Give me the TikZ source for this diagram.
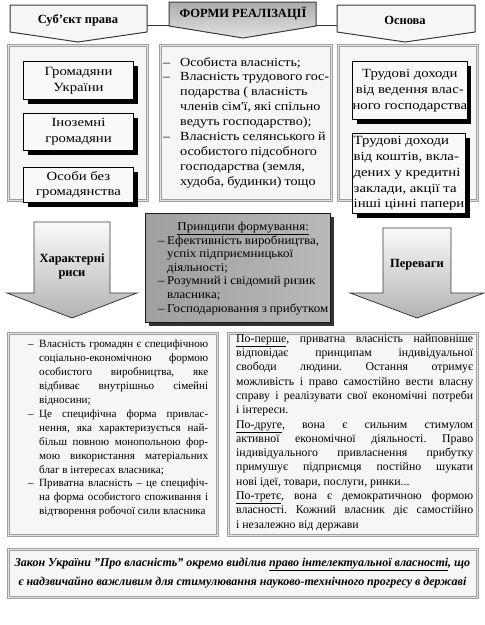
\documentclass[tikz,border=0pt]{standalone}
\usepackage{fontspec}
\setmainfont{Liberation Serif}
\newfontfamily\wideser{Liberation Serif}[FakeStretch=1.18]
\newfontfamily\midser{Liberation Serif}[FakeStretch=1.08]
\newfontfamily\censer{Liberation Serif}[FakeStretch=1.14]
\usetikzlibrary{shadows}
\newcommand\JL[1]{\hbox to\hsize{#1}}
\newcommand\LL[1]{\hbox to\hsize{#1\hfil}}
\newcommand\CL[1]{\hbox to\hsize{\hfil#1\hfil}}
\newcommand\DS[1]{\hbox to#1{–\hfil}}
\newcommand\TB[2]{\vbox{\hsize=#1\relax #2}}
\newcommand\jfont[2]{\fontsize{#1}{#2}\selectfont\frenchspacing\spaceskip=.25em plus 1em minus .06em\relax}
\begin{document}
\begin{tikzpicture}[x=1pt,y=-1pt,
  frame/.style={draw=gray!75, line width=0.7pt, double=gray!22, double distance=1.6pt, fill=gray!7, inner sep=0pt, anchor=north west},
  ibox/.style={draw=black, line width=1pt, fill=gray!5, inner sep=0pt, anchor=north west, align=center, font=\wideser\fontsize{12.5}{15.7}\selectfont, drop shadow={shadow xshift=4pt, shadow yshift=-4pt, fill=black, opacity=1}},
  ttl/.style={draw=gray!45!black, line width=1pt},
  ttext/.style={font=\bfseries\fontsize{12.5}{14}\selectfont, inner sep=0pt},
  darrow/.style={draw=gray!45!black, line width=0.8pt, top color=gray!4, bottom color=gray!60},
  conn/.style={draw=black!80, line width=0.8pt},
  body/.style={inner sep=0pt, anchor=north west}
]
\useasboundingbox (0,0) rectangle (485,625);

% title shapes
\path[ttl, fill=gray!7] (10,5) -- (147,5) -- (147,32) -- (78,42) -- (10,32) -- cycle;
\path[ttl, top color=gray!65, bottom color=gray!22] (169,2) -- (316,2) -- (316,26) -- (243,38) -- (169,26) -- cycle;
\path[ttl, fill=gray!7] (337,5) -- (475,5) -- (475,32) -- (405,42) -- (337,32) -- cycle;
\coordinate (sR) at (147,25);
\coordinate (cL) at (169,25);
\coordinate (cR) at (316,25);
\coordinate (oL) at (337,25);
\draw[conn] (sR) -- (cL);
\draw[conn] (cR) -- (oL);
\node[ttext] (tS) at (78,20) {Суб’єкт права};
\node[ttext] (tF) at (243,14) {ФОРМИ РЕАЛІЗАЦІЇ};
\node[ttext] (tO) at (405,20) {Основа};

% top frames
\node[frame, minimum width=139pt, minimum height=155pt] (fL) at (8,45) {};
\node[frame, minimum width=171pt, minimum height=155pt] (fC) at (160,45) {};
\node[frame, minimum width=139pt, minimum height=155pt] (fR) at (338,45) {};

\node[ibox, minimum width=110pt, minimum height=38pt] (g1) at (23,61) {Громадяни\\України};
\node[ibox, minimum width=110pt, minimum height=37pt] (g2) at (23,113) {Іноземні\\громадяни};
\node[ibox, minimum width=110pt, minimum height=35pt] (g3) at (23,167) {Особи без\\громадянства};

\node[ibox, minimum width=113pt, minimum height=58pt] (r1) at (352,61) {Трудові доходи\\від ведення влас-\\ного господарства};
\node[ibox, minimum width=113pt, minimum height=80pt, align=left] (r2) at (352,133) {Трудові доходи\\від коштів, вкла-\\дених у кредитні\\заклади, акції та\\інші цінні папери};

\node[body, font=\censer\jfont{12.4}{14.9}] (fCt) at (163,57) {\TB{166pt}{%
\LL{\DS{17pt}Особиста власність;}
\LL{\DS{17pt}Власність трудового гос-}
\LL{\kern17pt подарства ( власність}
\LL{\kern17pt членів сім'ї, які спільно}
\LL{\kern17pt ведуть господарство);}
\LL{\DS{17pt}Власність селянського й}
\LL{\kern17pt особистого підсобного}
\LL{\kern17pt господарства (земля,}
\LL{\kern17pt худоба, будинки) тощо}}%
};

% middle row
\path[darrow] (34,222) -- (110,222) -- (110,293) -- (137,293) -- (72,318) -- (7,293) -- (34,293) -- cycle;
\node[ttext, align=center] (tH) at (72,266) {Характерні\\риси};
\path[darrow] (383,228) -- (451,228) -- (451,293) -- (484,293) -- (417,318) -- (350,293) -- (383,293) -- cycle;
\node[ttext] (tP) at (417,265) {Переваги};

\node[draw=gray!20!black, line width=1.2pt, left color=gray!75, middle color=gray!5, right color=gray!55, minimum width=185pt, minimum height=109pt, anchor=north west, inner sep=0pt, drop shadow={shadow xshift=3pt, shadow yshift=-3pt, fill=gray!40!black, opacity=1}] (pr) at (145,213) {};
\node[body, font=\midser\jfont{12}{13.6}] (prt) at (158,222) {\TB{170pt}{%
\CL{\underline{Принципи формування:}}
\LL{\DS{9pt}Ефективність виробництва,}
\LL{\kern9pt успіх підприємницької}
\LL{\kern9pt діяльності;}
\LL{\DS{9pt}Розумний і свідомий ризик}
\LL{\kern9pt власника;}
\LL{\DS{9pt}Господарювання з прибутком}}%
};

% bottom frames
\node[frame, minimum width=209pt, minimum height=202pt] (bL) at (8,333) {};
\node[frame, minimum width=249pt, minimum height=202pt] (bR) at (228,333) {};
\node[frame, minimum width=469pt, minimum height=48pt] (bB) at (8,549) {};

\node[body, font=\jfont{11.1}{13.9}] (bLt) at (28,340) {\TB{180pt}{%
\JL{\DS{11pt}Власність громадян є специфічною}
\JL{\kern11pt соціально-економічною формою}
\JL{\kern11pt особистого виробництва, яке}
\JL{\kern11pt відбиває внутрішньо сімейні}
\LL{\kern11pt відносини;}
\JL{\DS{11pt}Це специфічна форма привлас-}
\JL{\kern11pt нення, яка характеризується най-}
\JL{\kern11pt більш повною монопольною фор-}
\JL{\kern11pt мою використання матеріальних}
\LL{\kern11pt благ в інтересах власника;}
\JL{\DS{11pt}Приватна власність – це специфіч-}
\JL{\kern11pt на форма особистого споживання і}
\LL{\kern11pt відтворення робочої сили власника}}%
};

\node[body, font=\jfont{11.8}{14.3}] (bRt) at (236,334) {\TB{237pt}{%
\JL{\underline{По-перше}, приватна власність найповніше}
\JL{відповідає принципам індивідуальної}
\JL{свободи людини. Остання отримує}
\JL{можливість і право самостійно вести власну}
\JL{справу і реалізувати свої економічні потреби}
\LL{і інтереси.}
\JL{\underline{По-друге}, вона є сильним стимулом}
\JL{активної економічної діяльності. Право}
\JL{індивідуального привласнення прибутку}
\JL{примушує підприємця постійно шукати}
\LL{нові ідеї, товари, послуги, ринки...}
\JL{\underline{По-третє}, вона є демократичною формою}
\JL{власності. Кожний власник діє самостійно}
\LL{і незалежно від держави}}%
};

\node[font=\bfseries\itshape\fontsize{12}{18.5}\selectfont, align=center, inner sep=0pt] (bBt) at (242.5,573) {Закон України "Про власність" окремо виділив \underline{право інтелектуальної власності}, що\\є надзвичайно важливим для стимулювання науково-технічного прогресу в державі};
\end{tikzpicture}
\end{document}
